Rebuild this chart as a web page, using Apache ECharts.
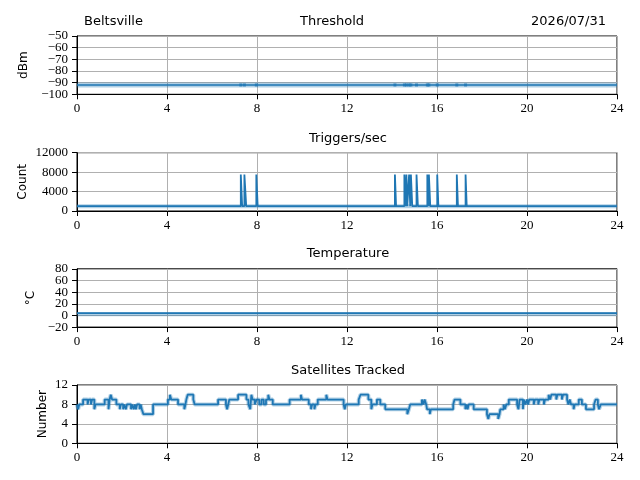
<!DOCTYPE html>
<html>
<head>
<meta charset="utf-8">
<script src="https://cdn.jsdelivr.net/npm/echarts@6/dist/echarts.min.js"></script>
<style>
  html, body { margin: 0; padding: 0; background: #fff; }
  #main { width: 640px; height: 480px; }
</style>
</head>
<body>
<div id="main"></div>
<script>
// hour ticks shared by every panel
var hourTicks = [0, 4, 8, 12, 16, 20, 24];

// trigger bursts: [start hour, end hour]
var triggerSpikes = [
  [7.28, 7.34], [7.44, 7.52], [7.97, 8.03],
  [14.13, 14.18], [14.55, 14.61], [14.64, 14.68], [14.76, 14.81], [14.84, 14.9],
  [15.09, 15.15], [15.57, 15.62], [15.64, 15.7], [16.01, 16.06],
  [16.88, 16.93], [17.27, 17.32]
];
var triggerBase = 1000;
var triggerPeak = 7500;

// threshold level (dBm) and temperature (degC)
var thresholdLevel = -92;
var tempLevel = 4;
var tempRawLevel = 2;

// satellites tracked, change points [hour, count]
var satellites = [
  [0, 8], [0.05, 7], [0.1, 8], [0.27, 9], [0.47, 8], [0.52, 9], [0.62, 8], [0.67, 9], [0.77, 7], [0.82, 8],
  [1.23, 9], [1.4, 7], [1.45, 9], [1.5, 10], [1.56, 9], [1.75, 8], [1.9, 7], [1.95, 8], [2.05, 7], [2.1, 8],
  [2.17, 7], [2.22, 8], [2.4, 7], [2.45, 8], [2.52, 7], [2.57, 8], [2.62, 7], [2.67, 8], [2.78, 7], [2.83, 8],
  [2.88, 7], [2.95, 6], [3.38, 8], [4.04, 9], [4.13, 10], [4.19, 9], [4.49, 8], [4.77, 7], [4.82, 8],
  [4.86, 9], [4.92, 10], [5.17, 9], [5.23, 8], [6.27, 9], [6.62, 8], [6.67, 7], [6.72, 8], [6.77, 9],
  [7.16, 10], [7.53, 9], [7.62, 8], [7.7, 7], [7.75, 10], [7.8, 9], [7.9, 8], [7.98, 9], [8.1, 8],
  [8.2, 9], [8.3, 8], [8.4, 9], [8.5, 10], [8.55, 9], [8.7, 8], [9.45, 9], [9.95, 10], [10.0, 9],
  [10.3, 8], [10.4, 7], [10.45, 8], [10.55, 7], [10.6, 8], [10.7, 9], [11.08, 10], [11.13, 9],
  [11.85, 8], [11.9, 7], [11.95, 8], [12.52, 9], [12.6, 10], [12.95, 9], [13.08, 7], [13.13, 8],
  [13.33, 9], [13.48, 8], [13.7, 7], [14.68, 6], [14.75, 7], [14.81, 8], [15.33, 9], [15.4, 8],
  [15.45, 9], [15.52, 8], [15.56, 7], [15.68, 6], [15.73, 7], [16.72, 8], [16.78, 9], [17.04, 8],
  [17.26, 7], [17.31, 8], [17.36, 7], [17.41, 8], [17.63, 7], [18.22, 6], [18.28, 5], [18.33, 6],
  [18.72, 5], [18.78, 6], [18.81, 7], [18.96, 8], [19.02, 7], [19.08, 8], [19.19, 9], [19.56, 8],
  [19.62, 7], [19.67, 9], [19.82, 7], [19.86, 9], [19.93, 8], [20.0, 9], [20.05, 8], [20.1, 9],
  [20.3, 8], [20.35, 9], [20.5, 8], [20.55, 9], [20.75, 8], [20.8, 9], [20.96, 10], [21.03, 9],
  [21.08, 10], [21.3, 9], [21.35, 10], [21.55, 9], [21.6, 10], [21.78, 9], [21.84, 8], [21.9, 9],
  [21.96, 8], [22.07, 7], [22.12, 8], [22.3, 9], [22.44, 8], [22.62, 7], [22.98, 8], [23.05, 9],
  [23.15, 8], [23.2, 7], [23.28, 8], [24, 8]
];

var panelTitles = ['Threshold', 'Triggers/sec', 'Temperature', 'Satellites Tracked'];
var yNames = ['dBm', 'Count', '\u00B0C', 'Number'];
// y tick labels per panel (the crowded ones are split over two label layers)
var yTicks = [
  [-100, -90, -80, -70, -60, -50],
  [0, 4000, 8000, 12000],
  [-20, 0, 20, 40, 60, 80],
  [0, 4, 8, 12]
];

var blue = '#1f77b4';
var faint = 'rgba(31,119,180,0.35)';
var serif = 'Liberation Serif';
var sans = 'DejaVu Sans';

// build the trigger trace from the bursts
var triggerData = [[0, triggerBase]];
triggerSpikes.forEach(function (s) {
  triggerData.push([s[0], triggerBase], [s[0], triggerPeak], [s[1], triggerPeak], [s[1], triggerBase]);
});
triggerData.push([24, triggerBase]);

var flat = function (v) { return [[0, v], [24, v]]; };
var minus = function (v) { return String(v).replace('-', '\u2212'); };

var chartDom = document.getElementById('main');
var myChart = echarts.init(chartDom, null, { renderer: 'canvas' });

var tops = [36, 152.7, 268.8, 385];
var grids = [], xAxes = [], yAxes = [], yAxesOdd = [];
for (var i = 0; i < 4; i++) {
  var t = yTicks[i];
  var yMin = t[0], yMax = t[t.length - 1], yStep = t[1] - t[0];
  grids.push({
    left: 77, right: 23, top: tops[i], height: 58.3,
    show: true, borderColor: '#000', borderWidth: 1, backgroundColor: 'transparent'
  });
  xAxes.push({
    gridIndex: i, type: 'value', min: 0, max: 24, interval: 4,
    axisLine: { show: true, onZero: false, lineStyle: { color: '#000', width: 1 } },
    axisTick: { show: true, length: 5, lineStyle: { color: '#000' } },
    axisLabel: { color: '#000', fontFamily: serif, fontSize: 13, margin: 8, customValues: hourTicks },
    splitLine: { show: true, lineStyle: { color: '#b0b0b0', width: 1 } }
  });
  yAxes.push({
    gridIndex: i, type: 'value', min: yMin, max: yMax, interval: yStep,
    name: yNames[i], nameLocation: 'middle', nameRotate: 90,
    nameGap: [44, 48, 37, 28][i],
    nameTextStyle: { color: '#000', fontFamily: sans, fontSize: 12 },
    axisLine: { show: true, lineStyle: { color: '#000', width: 1 } },
    axisTick: { show: true, length: 5, lineStyle: { color: '#000' } },
    axisLabel: {
      color: '#000', fontFamily: serif, fontSize: 13, margin: 9,
      customValues: t.filter(function (v, k) { return k % 2 === 0; }),
      formatter: minus
    },
    splitLine: { show: true, lineStyle: { color: '#b0b0b0', width: 1 } }
  });
  yAxesOdd.push({
    gridIndex: i, type: 'value', min: yMin, max: yMax, interval: yStep,
    axisLine: { show: false }, axisTick: { show: false }, splitLine: { show: false },
    position: 'left',
    axisLabel: {
      color: '#000', fontFamily: serif, fontSize: 13, margin: 9,
      customValues: t.filter(function (v, k) { return k % 2 === 1; }),
      formatter: minus
    }
  });
}

var titleStyle = { color: '#000', fontFamily: sans, fontSize: 13, fontWeight: 'normal' };
var titles = [
  { text: 'Beltsville', left: 84, top: 15, padding: 0, textStyle: titleStyle },
  { text: '2026/07/31', right: 34, top: 15, padding: 0, textStyle: titleStyle },
  { text: panelTitles[0], left: 332, top: 15, padding: 0, textAlign: 'center', textStyle: titleStyle },
  { text: panelTitles[1], left: 348, top: 132, padding: 0, textAlign: 'center', textStyle: titleStyle },
  { text: panelTitles[2], left: 348, top: 247, padding: 0, textAlign: 'center', textStyle: titleStyle },
  { text: panelTitles[3], left: 348, top: 364, padding: 0, textAlign: 'center', textStyle: titleStyle }
];

var lineSeries = function (idx, data, color, width, extra) {
  var s = {
    type: 'line', xAxisIndex: idx, yAxisIndex: idx, data: data,
    showSymbol: false, animation: false, silent: true,
    lineStyle: { color: color, width: width }
  };
  return Object.assign(s, extra || {});
};

var option = {
  animation: false,
  title: titles,
  grid: grids,
  xAxis: xAxes,
  yAxis: yAxes.concat(yAxesOdd),
  series: [
    lineSeries(0, flat(thresholdLevel), faint, 5),
    lineSeries(0, flat(thresholdLevel), blue, 1.5),
    {
      type: 'scatter', xAxisIndex: 0, yAxisIndex: 0, symbol: 'rect', symbolSize: 3,
      itemStyle: { color: blue }, silent: true,
      data: triggerSpikes.map(function (s) { return [s[0], thresholdLevel]; })
    },
    lineSeries(1, flat(triggerBase), faint, 4),
    lineSeries(1, triggerData, blue, 1.8),
    lineSeries(2, flat(tempRawLevel), faint, 4),
    lineSeries(2, flat(tempLevel), blue, 1.8),
    lineSeries(3, satellites, faint, 4, { step: 'end' }),
    lineSeries(3, satellites, blue, 1.8, { step: 'end' })
  ]
};

myChart.setOption(option);

window.onresize = function () {
  myChart.resize();
};
</script>
</body>
</html>
